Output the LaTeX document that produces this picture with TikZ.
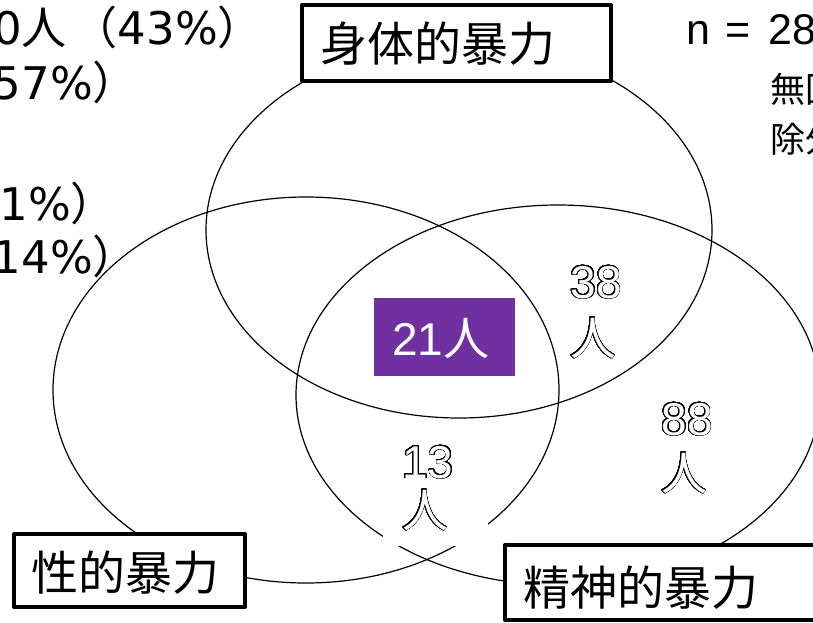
\documentclass[tikz,border=0pt]{standalone}
\usepackage{fontspec}
\usepackage{contour}
\setmainfont{Liberation Sans}
\newfontfamily\cjk{Noto Sans CJK JP}
\newfontfamily\verd{DejaVu Sans}
\newcommand\fsz[1]{\fontsize{#1}{#1}\selectfont}
\definecolor{vpurple}{HTML}{7030A0}
\contourlength{0.9pt}
\contournumber{48}
\usetikzlibrary{shapes.geometric}
\tikzset{
  venn/.style={ellipse, draw=black, line width=1.2pt, inner sep=0pt, outer sep=0pt},
  labelbox/.style={draw=black, line width=4pt, line join=round, fill=white, inner sep=0pt},
  boxtext/.style={inner sep=0pt, anchor=base west, font=\cjk\fsz{47}},
  sidetext/.style={inner sep=0pt, anchor=base east, font=\fsz{45}},
  hollow/.style={inner sep=0pt, anchor=base, text=white, font=\fsz{46}},
}
\begin{document}
\begin{tikzpicture}[x=1pt,y=-1pt]
\useasboundingbox (0,0) rectangle (813,623);
\clip (0,0) rectangle (813,623);
\fill[white] (0,0) rectangle (813,623);
% ellipses
\node[venn, minimum width=506pt, minimum height=376pt] (phys) at (459,230) {};
\node[venn, minimum width=506pt, minimum height=386pt] (sex) at (306,390) {};
\node[venn, minimum width=524pt, minimum height=380pt] (ment) at (558,395) {};
% side texts (cut off)
\node[sidetext] (t1) at (263,45) {{\verd 0}{\cjk 人}\hspace{6pt}{\cjk（}{\verd 43\%}{\cjk ）}};
\node[sidetext] (t2) at (138,100) {{\verd 57\%}{\cjk ）}};
\node[sidetext] (t3) at (116,220) {{\verd 1\%}{\cjk ）}};
\node[sidetext] (t4) at (138,273) {{\verd 14\%}{\cjk ）}};
\node[inner sep=0pt, anchor=base west, font=\fsz{43}] (n) at (686,45) {n\hspace{15pt}=\hspace{18pt}28};
\node[inner sep=0pt, anchor=west, font=\cjk\fsz{35}] (m1) at (770,89) {無回};
\node[inner sep=0pt, anchor=west, font=\cjk\fsz{35}] (m2) at (770,139) {除外};
% centre box
\node[fill=vpurple, minimum width=141pt, minimum height=78pt, inner sep=0pt] (c) at (444.5,337) {};
\node[inner sep=0pt, anchor=base, text=white, font=\fsz{46}] (ct) at (441,355) {21{\cjk 人}};
% outlined counts
\node[hollow] (a1) at (596,298) {\contour{black}{38}};
\node[hollow] (a2) at (593,355) {\contour{black}{\cjk 人}};
\node[hollow] (b1) at (687,435) {\contour{black}{88}};
\node[hollow] (b2) at (684,490) {\contour{black}{\cjk 人}};
\node[fill=white, minimum width=105pt, minimum height=106pt, inner sep=0pt] (wbg) at (435.5,493) {};
\node[hollow] (d1) at (428,478) {\contour{black}{13}};
\node[hollow] (d2) at (425,527) {\contour{black}{\cjk 人}};
% label boxes
\node[labelbox, minimum width=309pt, minimum height=76pt] (pb) at (456.5,43) {};
\node[boxtext] (pt) at (320,62) {身体的暴力};
\node[labelbox, minimum width=231pt, minimum height=73pt] (sb) at (129.5,570.5) {};
\node[boxtext] (st) at (31,590) {性的暴力};
\node[labelbox, minimum width=325pt, minimum height=75pt] (mb) at (667.5,582.5) {};
\node[boxtext] (mt) at (523,605) {精神的暴力};
\end{tikzpicture}
\end{document}
